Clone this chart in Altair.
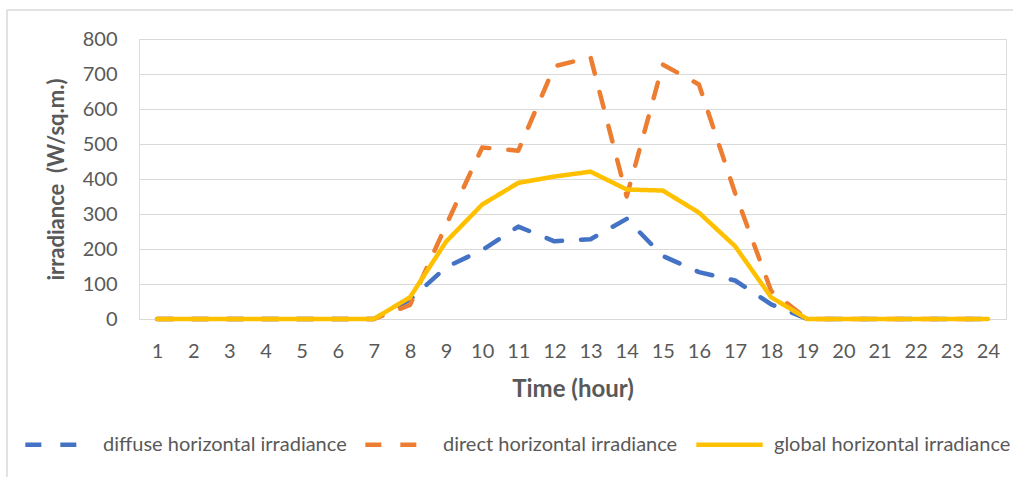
import altair as alt
import pandas as pd

# Hourly irradiance profile (W/sq.m.)
hours = list(range(1, 25))
diffuse = [0, 0, 0, 0, 0, 0, 0, 55, 148, 197, 264, 222, 228, 286, 180, 134, 110, 42, 0, 0, 0, 0, 0, 0]
direct = [0, 0, 0, 0, 0, 0, 0, 40, 268, 490, 481, 722, 748, 350, 727, 670, 360, 80, 0, 0, 0, 0, 0, 0]
global_ = [0, 0, 0, 0, 0, 0, 0, 62, 221, 327, 389, 407, 421, 370, 367, 304, 208, 62, 0, 0, 0, 0, 0, 0]

series_names = [
    "diffuse horizontal irradiance",
    "direct horizontal irradiance",
    "global horizontal irradiance",
]
series_colors = ["#4472C4", "#ED7D31", "#FFC000"]
series_dashes = [[16, 19], [16, 19], [1, 0]]
y_ticks = list(range(0, 801, 100))

rows = []
for name, values in zip(series_names, [diffuse, direct, global_]):
    for h, v in zip(hours, values):
        rows.append({"hour": h, "value": v, "series": name})
df = pd.DataFrame(rows)

FONT = "Lato"
LEGEND_FONT = "Liberation Sans Narrow, Lato"
GREY = "#595959"

legend_cfg = dict(
    title=None,
    orient="none",
    direction="horizontal",
    legendX=-116,
    legendY=370,
    symbolType="stroke",
    symbolSize=4400,
    symbolStrokeWidth=4.5,
    labelFont=LEGEND_FONT,
    labelFontSize=20,
    labelColor=GREY,
    labelOffset=9,
    labelLimit=400,
    columnPadding=9,
)

lines = alt.Chart(df).mark_line(strokeWidth=4.5, strokeCap="round", strokeJoin="round").encode(
    x=alt.X(
        "hour:O",
        title="Time (hour)",
        sort=hours,
        axis=alt.Axis(
            labelAngle=0,
            labelFontSize=20,
            labelColor=GREY,
            labelPadding=22,
            ticks=False,
            domain=False,
            grid=False,
            titleFontSize=24,
            titleFontWeight="bold",
            titleColor=GREY,
            titlePadding=16,
        ),
    ),
    y=alt.Y(
        "value:Q",
        title="irradiance \u00a0(W/sq.m.)",
        scale=alt.Scale(domain=[0, 800], nice=False),
        axis=alt.Axis(
            values=y_ticks,
            labelFontSize=20,
            labelColor=GREY,
            labelPadding=22,
            ticks=False,
            domain=False,
            gridColor="#d9d9d9",
            gridWidth=1.2,
            titleFontSize=22,
            titleFontWeight="bold",
            titleColor=GREY,
            titlePadding=14,
        ),
    ),
    color=alt.Color(
        "series:N",
        scale=alt.Scale(domain=series_names, range=series_colors),
        legend=alt.Legend(**legend_cfg),
    ),
    strokeDash=alt.StrokeDash(
        "series:N",
        scale=alt.Scale(domain=series_names, range=series_dashes),
        legend=alt.Legend(**legend_cfg),
    ),
    order=alt.Order("series:N"),
)

# Light frame around the chart area (top and left edges)
frame_top = alt.Chart(pd.DataFrame({"k": [0]})).mark_rule(color="#d9d9d9", strokeWidth=1.5).encode(
    x=alt.value(-132), x2=alt.value(880), y=alt.value(-29)
)
frame_left = alt.Chart(pd.DataFrame({"k": [0]})).mark_rule(color="#d9d9d9", strokeWidth=1.5).encode(
    x=alt.value(-132), y=alt.value(-29), y2=alt.value(440)
)

chart = (
    alt.layer(frame_top, frame_left, lines)
    .properties(
        width=867,
        height=280,
        autosize=alt.AutoSizeParams(type="none"),
        padding={"left": 139, "top": 39, "right": 7, "bottom": 158},
        background="white",
    )
    .configure_view(stroke=None)
    .configure(font=FONT)
)

chart.save("out.html", embed_options={"renderer": "svg", "actions": False})
